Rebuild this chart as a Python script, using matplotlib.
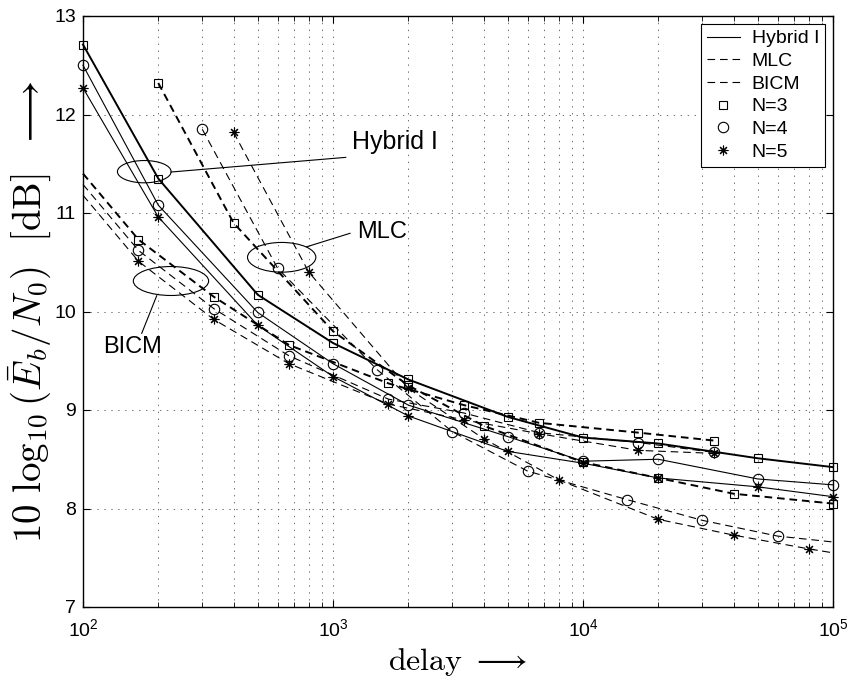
import matplotlib
matplotlib.use("Agg")
import matplotlib.pyplot as plt
from matplotlib.lines import Line2D
from matplotlib.patches import Ellipse
from matplotlib.ticker import FixedLocator, FixedFormatter, LogLocator, NullFormatter

plt.rcParams["font.family"] = ["Liberation Sans", "DejaVu Sans"]
plt.rcParams["mathtext.fontset"] = "custom"
plt.rcParams["mathtext.rm"] = "Liberation Sans"
plt.rcParams["mathtext.it"] = "Liberation Sans:italic"
plt.rcParams["mathtext.bf"] = "Liberation Sans:bold"
plt.rcParams["lines.scale_dashes"] = False

# Hybrid I (solid)
delay_hybrid = [100, 200, 500, 1000, 2000, 5000, 10000, 20000, 50000, 100000]
hybrid_n3 = [12.71, 11.35, 10.17, 9.68, 9.31, 8.93, 8.72, 8.66, 8.51, 8.42]
hybrid_n4 = [12.50, 11.08, 9.99, 9.47, 9.05, 8.73, 8.48, 8.50, 8.30, 8.24]
hybrid_n5 = [12.27, 10.96, 9.86, 9.34, 8.94, 8.58, 8.46, 8.31, 8.22, 8.12]

# MLC (dashed)
delay_mlc_n3 = [200, 400, 1000, 2000, 4000, 10000, 20000, 40000, 100000]
mlc_n3 = [12.32, 10.90, 9.80, 9.25, 8.84, 8.47, 8.31, 8.15, 8.05]
delay_mlc_n4 = [300, 600, 1500, 3000, 6000, 15000, 30000, 60000, 100000]
mlc_n4 = [11.85, 10.44, 9.41, 8.78, 8.38, 8.09, 7.88, 7.72, 7.66]
delay_mlc_n5 = [400, 800, 2000, 4000, 8000, 20000, 40000, 80000, 100000]
mlc_n5 = [11.82, 10.40, 9.22, 8.71, 8.29, 7.89, 7.73, 7.59, 7.55]

# BICM (dashed)
delay_bicm = [100, 166.7, 333.3, 666.7, 1666.7, 3333.3, 6666.7, 16666.7, 33333.3]
bicm_n3 = [11.40, 10.73, 10.15, 9.66, 9.27, 9.05, 8.87, 8.77, 8.69]
bicm_n4 = [11.29, 10.62, 10.03, 9.55, 9.11, 8.97, 8.77, 8.67, 8.57]
bicm_n5 = [11.18, 10.51, 9.92, 9.47, 9.06, 8.90, 8.76, 8.59, 8.56]

y_ticks = [7, 8, 9, 10, 11, 12, 13]
x_ticks = [1e2, 1e3, 1e4, 1e5]
x_tick_labels = ["$10^{2}$", "$10^{3}$", "$10^{4}$", "$10^{5}$"]

marker_style = {
    3: dict(marker="s", ms=6.0),
    4: dict(marker="o", ms=7.5),
    5: dict(marker=(8, 2, 0), ms=7.0),
}
dash = (5.5, 3.5)

fig = plt.figure(figsize=(8.49, 6.93), dpi=100)
ax = fig.add_axes([83 / 849, 86 / 693, 750 / 849, 591 / 693])

series = [
    (delay_hybrid, hybrid_n3, 3, "-", None),
    (delay_hybrid, hybrid_n4, 4, "-", None),
    (delay_hybrid, hybrid_n5, 5, "-", None),
    (delay_mlc_n3, mlc_n3, 3, "--", None),
    (delay_mlc_n4, mlc_n4, 4, "--", list(range(8))),
    (delay_mlc_n5, mlc_n5, 5, "--", list(range(8))),
    (delay_bicm, bicm_n3, 3, "--", list(range(1, 9))),
    (delay_bicm, bicm_n4, 4, "--", list(range(1, 9))),
    (delay_bicm, bicm_n5, 5, "--", list(range(1, 9))),
]
for x, y, n, ls, every in series:
    lw = 1.4 if n == 3 else 0.8
    (line,) = ax.plot(
        x, y, color="black", lw=lw, mfc="none", mec="black", mew=0.8,
        markevery=every, clip_on=False, zorder=3, **marker_style[n]
    )
    if ls == "--":
        line.set_dashes(dash)

ax.set_xscale("log")
ax.set_xlim(1e2, 1e5)
ax.set_ylim(7, 13)
ax.xaxis.set_major_locator(FixedLocator(x_ticks))
ax.xaxis.set_major_formatter(FixedFormatter(x_tick_labels))
ax.xaxis.set_minor_locator(LogLocator(base=10, subs=range(2, 10)))
ax.xaxis.set_minor_formatter(NullFormatter())
ax.set_yticks(y_ticks)

ax.grid(which="major", color="0.35", linestyle=(0, (1, 4)), lw=0.6)
ax.grid(which="minor", axis="x", color="0.35", linestyle=(0, (1, 4)), lw=0.6)
ax.tick_params(which="both", direction="in", top=True, right=True, labelsize=14)
ax.tick_params(which="major", length=5, width=0.8)
ax.tick_params(axis="x", which="major", pad=8)
ax.tick_params(axis="y", which="major", pad=5)
ax.tick_params(which="minor", length=3.5, width=0.6)
for spine in ax.spines.values():
    spine.set_linewidth(1.0)

# annotation ellipses with leader lines
ellipses = [
    ((0.0817, 0.7366), 0.0716, 0.0377),
    ((0.2649, 0.5917), 0.0911, 0.0503),
    ((0.1173, 0.5516), 0.1004, 0.0490),
]
for center, w, h in ellipses:
    ax.add_patch(Ellipse(center, w, h, transform=ax.transAxes, fill=False,
                         edgecolor="black", lw=0.8, zorder=4))
ax.plot([0.1173, 0.3503], [0.7360, 0.7608], transform=ax.transAxes, color="black", lw=0.8)
ax.plot([0.2983, 0.3560], [0.6095, 0.6323], transform=ax.transAxes, color="black", lw=0.8)
ax.plot([0.0983, 0.0783], [0.5267, 0.4631], transform=ax.transAxes, color="black", lw=0.8)
ax.text(0.3587, 0.7870, "Hybrid I", transform=ax.transAxes, fontsize=18, ha="left", va="center")
ax.text(0.3650, 0.6345, "MLC", transform=ax.transAxes, fontsize=17, ha="left", va="center")
ax.text(0.0667, 0.4400, "BICM", transform=ax.transAxes, fontsize=17, ha="center", va="center")

ax.set_xlabel(r"$\mathrm{delay}\ \longrightarrow$", fontsize=23, math_fontfamily="cm", labelpad=4)
ax.set_ylabel(r"$10\ \log_{10}(\bar{E}_b/N_0)\ \ [\mathrm{dB}]\ \ \longrightarrow$",
              fontsize=28, math_fontfamily="cm", labelpad=1)

handles = [
    Line2D([], [], color="black", lw=0.8, ls="-"),
    Line2D([], [], color="black", lw=0.8, dashes=dash),
    Line2D([], [], color="black", lw=0.8, dashes=dash),
    Line2D([], [], color="black", ls="none", mfc="none", mew=0.8, **marker_style[3]),
    Line2D([], [], color="black", ls="none", mfc="none", mew=0.8, **marker_style[4]),
    Line2D([], [], color="black", ls="none", mfc="none", mew=0.8, **marker_style[5]),
]
labels = ["Hybrid I", "MLC", "BICM", "N=3", "N=4", "N=5"]
leg = ax.legend(handles, labels, loc="upper right", bbox_to_anchor=(825 / 849, 1 - 24 / 693),
                bbox_transform=fig.transFigure, fontsize=14, frameon=True, fancybox=False,
                edgecolor="black", framealpha=1, borderaxespad=0, borderpad=0.3,
                labelspacing=0.26, handlelength=1.7, handletextpad=0.6)
leg.get_frame().set_linewidth(0.8)

fig.savefig("out.png", dpi=100)
